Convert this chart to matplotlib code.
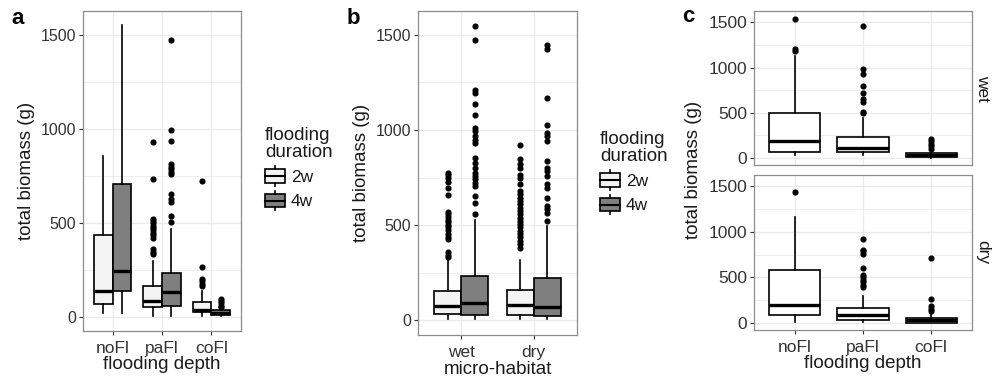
import numpy as np
import matplotlib
matplotlib.use("Agg")
import matplotlib.pyplot as plt
from matplotlib.patches import Patch, Rectangle
from matplotlib.lines import Line2D
from matplotlib.legend_handler import HandlerBase

plt.rcParams['font.family'] = ['Liberation Sans', 'DejaVu Sans']

# ---- data ----
depth_labels = ['noFl', 'paFl', 'coFl']
habitat_labels = ['wet', 'dry']
duration_labels = ['2w', '4w']

# panel a: biomass by flooding depth, split by duration
a_q1_2w = [64, 49, 22]
a_med_2w = [134, 80, 33]
a_q3_2w = [433, 164, 75]
a_lo_2w = [20, 5, 3]
a_hi_2w = [853, 297, 134]
a_fl_2w = [[],
           [926, 730, 520, 508, 495, 482, 470, 458, 445, 432, 418, 360, 345, 330],
           [721, 263, 200, 187, 175, 161]]

a_q1_4w = [134, 58, 6]
a_med_4w = [242, 133, 20]
a_q3_4w = [705, 233, 34]
a_lo_4w = [20, 5, 2]
a_hi_4w = [1548, 465, 42]
a_fl_4w = [[],
           [1472, 990, 935, 811, 797, 785, 770, 756, 652, 624, 611, 532, 504],
           [94, 82, 70, 58, 48]]

# panel b: biomass by micro-habitat, split by duration
b_q1_2w = [35, 30]
b_med_2w = [73, 80]
b_q3_2w = [153, 162]
b_lo_2w = [9, 9]
b_hi_2w = [317, 317]
b_fl_2w = [[775, 763, 749, 727, 697, 657, 570, 557, 544, 526, 514, 502, 488, 474,
            456, 439, 427, 357, 345, 331],
           [923, 850, 819, 801, 766, 749, 714, 679, 662, 645, 627, 610, 592, 575,
            557, 540, 523, 505, 488, 470, 453, 436, 418, 401, 378]]

b_q1_4w = [30, 23]
b_med_4w = [92, 70]
b_q3_4w = [233, 221]
b_lo_4w = [9, 9]
b_hi_4w = [528, 497]
b_fl_4w = [[1547, 1472, 1211, 1193, 1138, 1080, 1010, 993, 967, 949, 932, 854, 827,
            801, 775, 758, 740, 723, 706, 653, 618, 557],
           [1448, 1425, 1167, 1028, 984, 967, 941, 836, 801, 784, 758, 714, 697, 645,
            601, 584, 566, 523]]

# panel c: biomass by flooding depth, faceted by micro-habitat
c_q1_wet = [72, 65, 11]
c_med_wet = [191, 108, 30]
c_q3_wet = [496, 237, 54]
c_lo_wet = [29, 29, 0]
c_hi_wet = [1126, 442, 83]
c_fl_wet = [[1532, 1205, 1180],
            [1457, 982, 928, 791, 723, 647, 622, 514, 496],
            [209, 183, 155, 129, 101]]

c_q1_dry = [88, 29, 5]
c_med_dry = [197, 84, 28]
c_q3_dry = [584, 164, 51]
c_lo_dry = [7, 7, 0]
c_hi_dry = [1168, 292, 110]
c_fl_dry = [[1434],
            [923, 803, 785, 759, 602, 529, 504, 474, 449, 420, 394],
            [715, 263, 183, 153, 128]]

fill_2w = '#f4f4f4'
fill_4w = '#7f7f7f'
grid_col = '#ebebeb'
text_col = '#333333'
title_col = '#1a1a1a'


def make_stats(q1, med, q3, lo, hi, fl):
    return [dict(q1=a, med=m, q3=b, whislo=l, whishi=h, fliers=f)
            for a, m, b, l, h, f in zip(q1, med, q3, lo, hi, fl)]


def draw_boxes(ax, stats, pos, width, fill):
    ax.bxp(stats, positions=pos, widths=width, patch_artist=True, showcaps=False,
           boxprops=dict(facecolor=fill, edgecolor='black', linewidth=1.2),
           medianprops=dict(color='black', linewidth=2.4, solid_capstyle='butt'),
           whiskerprops=dict(color='black', linewidth=1.2),
           flierprops=dict(marker='o', markerfacecolor='black', markeredgecolor='black',
                           markersize=3.4),
           manage_ticks=False)


def style_axes(ax, n, ytick_size, xtick_size):
    ax.set_xlim(0.4, n + 0.6)
    ax.set_ylim(-77, 1625)
    ax.set_yticks([0, 500, 1000, 1500])
    ax.set_yticks([250, 750, 1250], minor=True)
    ax.set_xticks(np.arange(1, n + 1))
    ax.grid(True, which='major', color=grid_col, linewidth=1.0)
    ax.grid(True, which='minor', axis='y', color=grid_col, linewidth=0.6)
    ax.set_axisbelow(True)
    for s in ax.spines.values():
        s.set_color('#8c8c8c')
        s.set_linewidth(0.9)
    ax.tick_params(axis='both', which='major', length=3, width=0.8, color='#333333',
                   labelcolor=text_col)
    ax.tick_params(axis='y', labelsize=ytick_size, pad=2)
    ax.tick_params(axis='x', labelsize=xtick_size, pad=4)
    ax.tick_params(which='minor', length=0)


class BoxHandler(HandlerBase):
    # boxplot-shaped legend key, like ggplot's
    def create_artists(self, legend, orig_handle, xdescent, ydescent, width, height,
                       fontsize, trans):
        fc = orig_handle.get_facecolor()
        x0 = -xdescent
        y0 = -ydescent + height * 0.15
        h = height * 0.7
        rect = Rectangle((x0, y0), width, h, facecolor=fc, edgecolor='black', lw=1.2,
                         transform=trans)
        med = Line2D([x0, x0 + width], [y0 + h / 2] * 2, color='black', lw=1.5,
                     transform=trans)
        up = Line2D([x0 + width / 2] * 2, [y0 + h, -ydescent + height], color='black',
                    lw=1.2, transform=trans)
        dn = Line2D([x0 + width / 2] * 2, [-ydescent, y0], color='black', lw=1.2,
                    transform=trans)
        return [rect, med, up, dn]


def add_legend(ax, anchor):
    handles = [Patch(facecolor=fill_2w), Patch(facecolor=fill_4w)]
    leg = ax.legend(handles, duration_labels, title='flooding\nduration',
                    loc='upper left', bbox_to_anchor=anchor,
                    bbox_transform=ax.figure.transFigure, frameon=False,
                    handler_map={Patch: BoxHandler()}, fontsize=12.5,
                    title_fontsize=13.5, alignment='left', handlelength=1.15,
                    handleheight=1.35, handletextpad=0.35, labelspacing=0.3,
                    borderpad=0, borderaxespad=0)
    leg.get_title().set_color(title_col)
    leg.get_title().set_linespacing(1.0)
    for t in leg.get_texts():
        t.set_color(title_col)


W, H = 996, 381
fig = plt.figure(figsize=(9.96, 3.81), dpi=100)


def frac(x0, y0, x1, y1):
    return [x0 / W, 1 - y1 / H, (x1 - x0) / W, (y1 - y0) / H]


# ---- panel a ----
ax_a = fig.add_axes(frac(83, 11, 241, 331))
pos = np.arange(1, 4)
draw_boxes(ax_a, make_stats(a_q1_2w, a_med_2w, a_q3_2w, a_lo_2w, a_hi_2w, a_fl_2w),
           pos - 0.1875, 0.375, fill_2w)
draw_boxes(ax_a, make_stats(a_q1_4w, a_med_4w, a_q3_4w, a_lo_4w, a_hi_4w, a_fl_4w),
           pos + 0.1875, 0.375, fill_4w)
style_axes(ax_a, 3, 11.5, 12.5)
ax_a.set_xticklabels(depth_labels)
ax_a.set_xlabel('flooding depth', fontsize=13.5, color=title_col, labelpad=0)
ax_a.set_ylabel('total biomass (g)', fontsize=13.5, color=title_col, labelpad=4)
add_legend(ax_a, (265 / W, 1 - 127 / H))

# ---- panel b ----
ax_b = fig.add_axes(frac(418, 11, 577, 335))
pos = np.arange(1, 3)
draw_boxes(ax_b, make_stats(b_q1_2w, b_med_2w, b_q3_2w, b_lo_2w, b_hi_2w, b_fl_2w),
           pos - 0.1875, 0.375, fill_2w)
draw_boxes(ax_b, make_stats(b_q1_4w, b_med_4w, b_q3_4w, b_lo_4w, b_hi_4w, b_fl_4w),
           pos + 0.1875, 0.375, fill_4w)
style_axes(ax_b, 2, 11.5, 12.5)
ax_b.set_xticklabels(habitat_labels)
ax_b.set_xlabel('micro-habitat', fontsize=13.5, color=title_col, labelpad=1)
ax_b.set_ylabel('total biomass (g)', fontsize=13.5, color=title_col, labelpad=4)
add_legend(ax_b, (600 / W, 1 - 131 / H))

# ---- panel c ----
ax_c1 = fig.add_axes(frac(754, 11, 972, 165))
ax_c2 = fig.add_axes(frac(754, 175, 972, 330))
pos = np.arange(1, 4)
draw_boxes(ax_c1, make_stats(c_q1_wet, c_med_wet, c_q3_wet, c_lo_wet, c_hi_wet, c_fl_wet),
           pos, 0.75, 'white')
draw_boxes(ax_c2, make_stats(c_q1_dry, c_med_dry, c_q3_dry, c_lo_dry, c_hi_dry, c_fl_dry),
           pos, 0.75, 'white')
for ax, lab in [(ax_c1, habitat_labels[0]), (ax_c2, habitat_labels[1])]:
    style_axes(ax, 3, 12.5, 12.5)
    ax.text(1.015, 0.5, lab, rotation=-90, transform=ax.transAxes, va='center',
            ha='left', fontsize=12.5, color=title_col)
ax_c1.tick_params(axis='x', labelbottom=False, length=0)
ax_c2.set_xticklabels(depth_labels)
ax_c2.set_xlabel('flooding depth', fontsize=13.5, color=title_col, labelpad=0)
fig.text(693 / W, 1 - 170 / H, 'total biomass (g)', rotation=90, va='center',
         ha='center', fontsize=13.5, color=title_col)

# panel letters
for x, y, s in [(18, 19, 'a'), (353, 19, 'b'), (688, 17, 'c')]:
    fig.text(x / W, 1 - y / H, s, fontsize=16, fontweight='bold', ha='center',
             va='center')

fig.savefig('out.png', dpi=100)
